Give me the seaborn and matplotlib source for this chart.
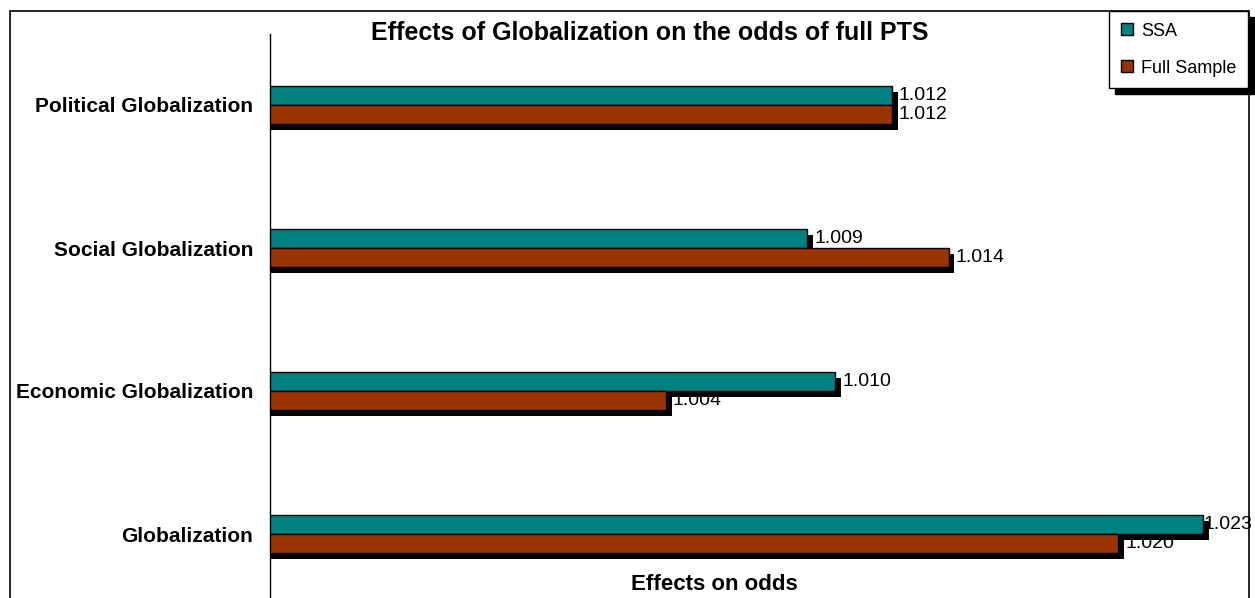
import matplotlib
matplotlib.use("Agg")
import pandas as pd
import matplotlib.pyplot as plt
import matplotlib.patheffects as pe
from matplotlib.patches import Rectangle
import seaborn as sns

# ---------------------------------------------------------------------------
# Dati
# ---------------------------------------------------------------------------

categorie = [
    "Political Globalization",
    "Social Globalization",
    "Economic Globalization",
    "Globalization",
]
ssa = [1.012, 1.009, 1.010, 1.023]
full_sample = [1.012, 1.014, 1.004, 1.020]
gruppi = ["SSA", "Full Sample"]
colori = ["#008080", "#993300"]

df = pd.DataFrame({
    "dimension": categorie * 2,
    "effect": ssa + full_sample,
    "sample": [gruppi[0]] * len(categorie) + [gruppi[1]] * len(categorie),
})

# ---------------------------------------------------------------------------
# Configurazione
# ---------------------------------------------------------------------------

sns.set_theme(style="white")
plt.rcParams["font.family"] = ["Liberation Sans", "DejaVu Sans"]
plt.rcParams["text.color"] = "black"
plt.rcParams["axes.labelcolor"] = "black"
plt.rcParams["ytick.color"] = "black"

W, H = 1255, 598
fig = plt.figure(figsize=(W / 100, H / 100), dpi=100, facecolor="white")

# cornice esterna del grafico (stile Excel)
fig.add_artist(Rectangle((10 / W, -0.05), (1249 - 10) / W, (H - 11) / H + 0.05,
                         transform=fig.transFigure, fill=False,
                         edgecolor="black", linewidth=1.2, zorder=-1))

# area del grafico: parte dall'asse a x=270 px, scende oltre il bordo
ax = fig.add_axes([270 / W, (H - 605.5) / H, 989.5 / W, 572 / H])
ax.patch.set_visible(False)

sns.barplot(data=df, x="effect", y="dimension", hue="sample",
            hue_order=gruppi, palette=colori, saturation=1, orient="h",
            width=0.27, edgecolor="black", linewidth=1.0, errorbar=None, ax=ax)

ax.set_xlim(0.99, 1.025)

# ombre nere sotto le barre
ombra = [pe.SimplePatchShadow(offset=(4.3, -4.3), shadow_rgbFace="black", alpha=1.0),
         pe.Normal()]
for cont, valori in zip(ax.containers, [ssa, full_sample]):
    for barra in cont:
        barra.set_path_effects(ombra)
    etichette = ax.bar_label(cont, fmt="%.3f", padding=5, fontsize=14, zorder=0.5)
    # vicino al bordo destro l'etichetta finisce sotto l'ombra (come Excel)
    for et, v in zip(etichette, valori):
        if v > 1.022:
            et.xyann = (0.5, 0)

# assi
sns.despine(ax=ax, top=True, right=True, bottom=True)
ax.spines["left"].set_color("black")
ax.spines["left"].set_linewidth(1.0)
ax.set_xticks([])
ax.tick_params(axis="y", length=0, pad=12, labelsize=15)
for lab in ax.get_yticklabels():
    lab.set_fontweight("bold")
ax.set_ylabel("")
ax.set_xlabel("Effects on odds", fontsize=16, fontweight="bold")
ax.xaxis.label.set_va("center")
ax.xaxis.set_label_coords((714 - 270) / 989.5, (605.5 - 585) / 572)

fig.suptitle("Effects of Globalization on the odds of full PTS", x=650 / W,
             y=1 - 33 / H, va="center", fontsize=18, fontweight="bold")

# legenda con ombra
leg = ax.legend(loc="upper right", bbox_to_anchor=(1248 / W, 1 - 11 / H),
                bbox_transform=fig.transFigure, frameon=True, fancybox=False,
                edgecolor="black", framealpha=1, borderaxespad=0,
                fontsize=13, handlelength=0.65, handleheight=0.65,
                handletextpad=0.45, labelspacing=1.1, borderpad=0.65,
                shadow={"ox": 4.3, "oy": -4.3, "facecolor": "black",
                        "edgecolor": "black", "alpha": 1.0})
leg.get_frame().set_linewidth(1.0)
for h in leg.legend_handles:
    h.set_edgecolor("black")
    h.set_linewidth(1.0)

fig.savefig("out.png", dpi=100)
plt.close(fig)
